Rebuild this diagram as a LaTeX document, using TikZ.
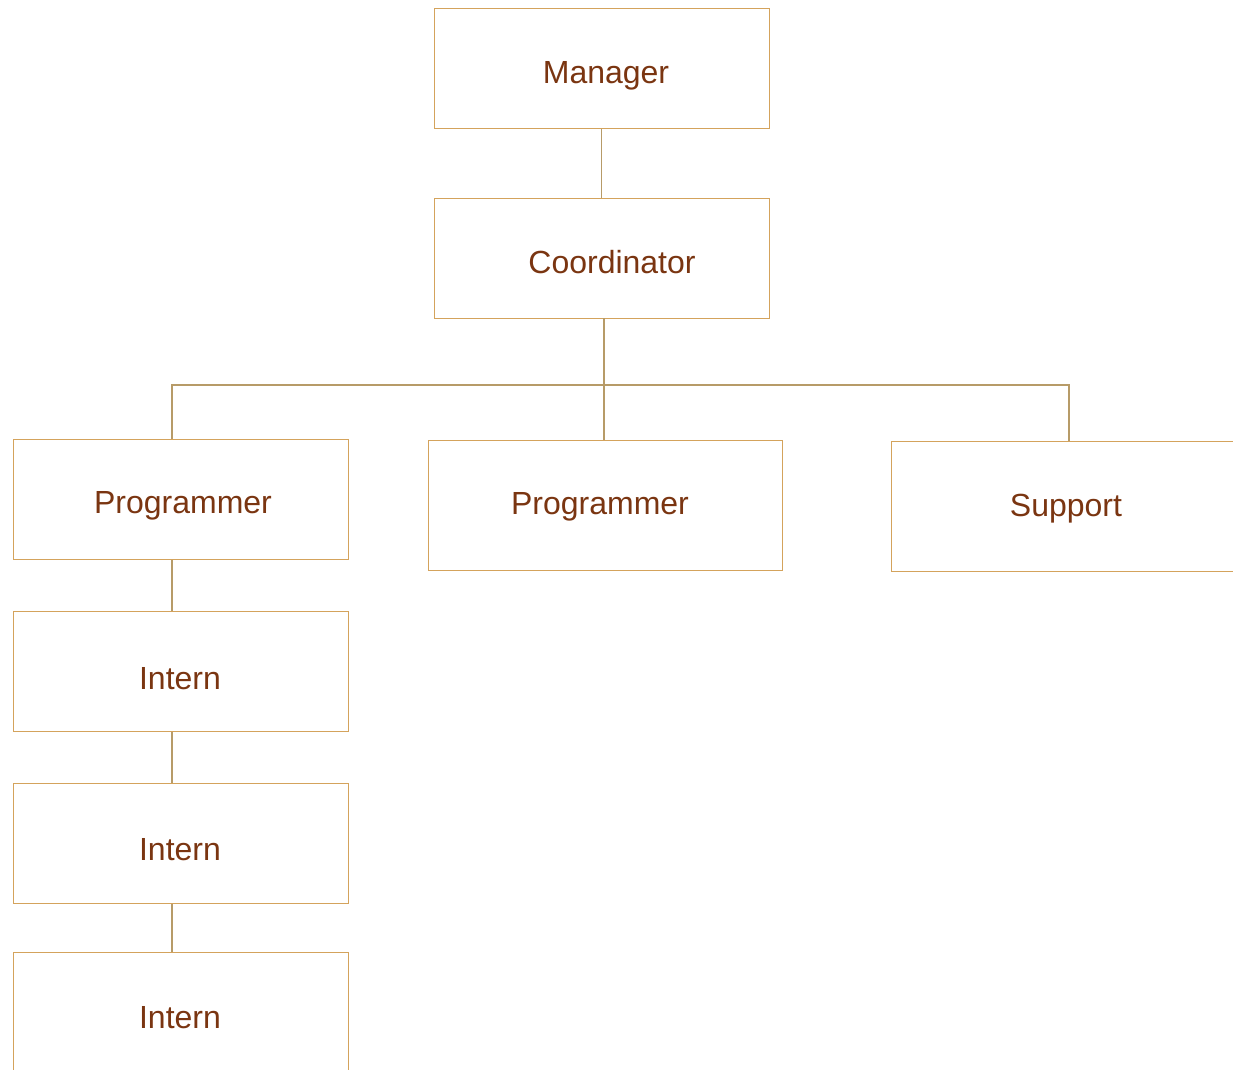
\documentclass[tikz,border=0pt]{standalone}
\usepackage{fontspec}
\setmainfont{Liberation Sans}
\definecolor{boxline}{HTML}{D4A35C}
\definecolor{linkline}{HTML}{B79B68}
\definecolor{roletext}{HTML}{7A3511}
\tikzset{
  rolebox/.style={draw=boxline, line width=0.9pt, minimum width=335pt, minimum height=120pt, inner sep=0pt},
  rolename/.style={text=roletext, font=\fontsize{32}{38}\selectfont, inner sep=0pt, anchor=base},
  link/.style={draw=linkline, line width=1.2pt}
}
\begin{document}
\begin{tikzpicture}[x=1pt, y=-1pt]
      \useasboundingbox (0,0) rectangle (1233,1069);
      \clip (0,0) rectangle (1233,1069);

      % boxes
      \node[rolebox] (manager) at (601.5,68.5) {};
      \node[rolebox] (coord) at (601.5,258) {};
      \node[rolebox] (prog1) at (180.5,499.5) {};
      \node[rolebox, minimum width=354pt, minimum height=130pt] (prog2) at (605,505) {};
      \node[rolebox, minimum width=356pt, minimum height=130pt] (support) at (1069,506) {};
      \node[rolebox] (intern1) at (180.5,671.5) {};
      \node[rolebox] (intern2) at (180.5,843.5) {};
      \node[rolebox] (intern3) at (180.5,1012) {};

      % names
      \node[rolename] (managerName) at (606,83) {Manager};
      \node[rolename] (coordName) at (612,273) {Coordinator};
      \node[rolename] (prog1Name) at (183,513) {Programmer};
      \node[rolename] (prog2Name) at (600,514) {Programmer};
      \node[rolename] (supportName) at (1066,516) {Support};
      \node[rolename] (intern1Name) at (180,689) {Intern};
      \node[rolename] (intern2Name) at (180,860) {Intern};
      \node[rolename] (intern3Name) at (180,1028) {Intern};

      % links
      \coordinate (bus) at (604,385);
      \coordinate (spine) at (172,385);

      \draw[link] (manager.south) -- (coord.north);

      \draw[link] (coord.south -| bus) -- (prog2.north -| bus);

      \draw[link] (prog1.north -| spine) |- (bus) -| (support.north);

      \draw[link] (prog1.south -| spine) -- (intern1.north -| spine);

      \draw[link] (intern1.south -| spine) -- (intern2.north -| spine);

      \draw[link] (intern2.south -| spine) -- (intern3.north -| spine);
    \end{tikzpicture}
\end{document}
